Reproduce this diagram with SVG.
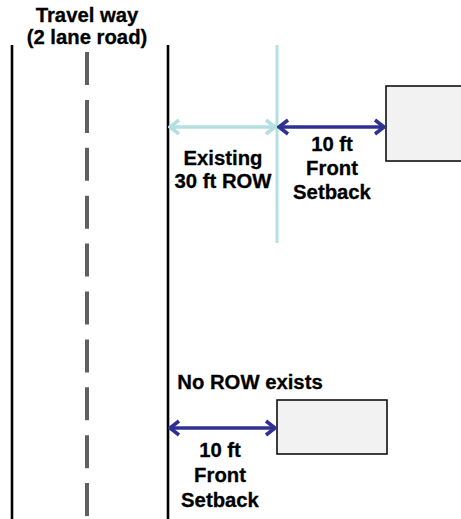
<svg xmlns="http://www.w3.org/2000/svg" width="461" height="519" viewBox="0 0 461 519">
<defs>
<style>
.t{font-family:"Liberation Sans",Arial,sans-serif;font-weight:bold;font-size:20.3px;fill:#000;text-anchor:middle;stroke:#000;stroke-width:0.3}
.edge{stroke:#000;stroke-width:2.6;fill:none}
.lot{fill:#f2f2f2;stroke:#000;stroke-width:1.5}
.dk{stroke:#2e3192;stroke-width:3.5;fill:none}
.lt{stroke:#b3dfe3;stroke-width:3.5;fill:none}
</style>
<marker id="hd" markerUnits="userSpaceOnUse" viewBox="-12 -9 14 18" markerWidth="14" markerHeight="18" refX="0" refY="0" orient="auto-start-reverse">
<path d="M-9,-7 L0,0 L-9,7" fill="none" stroke="#2e3192" stroke-width="3.5"/>
</marker>
<marker id="hl" markerUnits="userSpaceOnUse" viewBox="-12 -9 14 18" markerWidth="14" markerHeight="18" refX="0" refY="0" orient="auto-start-reverse">
<path d="M-9,-7 L0,0 L-9,7" fill="none" stroke="#b3dfe3" stroke-width="3.5"/>
</marker>
</defs>
<g id="road">
<text class="t" x="87" y="22">Travel way</text>
<text class="t" x="87" y="44">(2 lane road)</text>
<line class="edge" x1="12" y1="45" x2="12" y2="519"/>
<line x1="87" y1="52" x2="87" y2="519" stroke="#606060" stroke-width="4" stroke-dasharray="33 14.9"/>
<line class="edge" x1="168" y1="45" x2="168" y2="519"/>
</g>
<g id="row-line">
<line x1="277" y1="45" x2="277" y2="243" stroke="#b3dfe3" stroke-width="3"/>
</g>
<g id="lot1">
<rect class="lot" x="386" y="86" width="90" height="75"/>
</g>
<g id="lot2">
<rect class="lot" x="277" y="400" width="110" height="54"/>
</g>
<g id="connectors">
<line class="lt" x1="170" y1="127" x2="275" y2="127" marker-start="url(#hl)" marker-end="url(#hl)"/>
<line class="dk" x1="279" y1="127" x2="384" y2="127" marker-start="url(#hd)" marker-end="url(#hd)"/>
<line class="dk" x1="170" y1="428" x2="275" y2="428" marker-start="url(#hd)" marker-end="url(#hd)"/>
</g>
<g id="labels">
<text class="t" x="223" y="165">Existing</text>
<text class="t" x="223" y="188">30 ft ROW</text>
<text class="t" x="332" y="151">10 ft</text>
<text class="t" x="332" y="175">Front</text>
<text class="t" x="332" y="199">Setback</text>
<text class="t" x="250" y="389">No ROW exists</text>
<text class="t" x="220" y="457">10 ft</text>
<text class="t" x="220" y="482">Front</text>
<text class="t" x="220" y="507">Setback</text>
</g>
</svg>
